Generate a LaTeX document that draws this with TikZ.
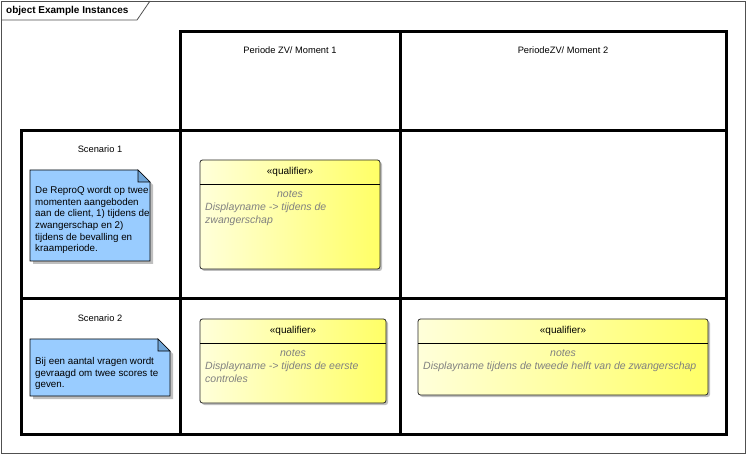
\documentclass[tikz,border=0pt]{standalone}
\usepackage{fontspec}
\setmainfont{Liberation Sans}
\usepackage{xcolor}
\usetikzlibrary{shadows}

\definecolor{notefill}{RGB}{153,204,255}
\definecolor{noteear}{RGB}{112,165,215}
\definecolor{qualleft}{RGB}{255,255,218}
\definecolor{qualright}{RGB}{255,255,102}
\definecolor{notegray}{RGB}{128,128,128}
\definecolor{framegray}{RGB}{80,80,80}

\begin{document}
\begin{tikzpicture}[x=1pt, y=-1pt,
  lbl/.style={font=\fontsize{9.3}{11.7}\selectfont, inner sep=0pt},
  notetext/.style={inner sep=0pt, font=\fontsize{9.8}{11.7}\selectfont, anchor=north west, align=left},
  grayit/.style={inner sep=0pt, text=notegray, font=\fontsize{10.5}{13}\selectfont\itshape},
  cell/.style={line width=3pt},
  notepaper/.style={fill=notefill, draw=black, line width=0.7pt,
    drop shadow={shadow xshift=3pt, shadow yshift=-3pt, opacity=0.25, fill=black}},
  qualbox/.style={draw=black!85, line width=0.8pt, rounded corners=2.5pt,
    left color=qualleft, right color=qualright,
    drop shadow={shadow xshift=2pt, shadow yshift=-2pt, opacity=0.25, fill=black}},
  ]
  \useasboundingbox (0,0) rectangle (747,454);
  % Frame with title tab
  \draw[framegray, line width=0.8pt] (1,1) rectangle (745.5,453);
  \draw[framegray, line width=0.8pt] (1,20) -- (137,20) -- (150,1);
  \node[font=\fontsize{10}{12}\selectfont\bfseries, anchor=west, inner sep=0pt] (title) at (6,10.5) {object Example Instances};
  % Grid
  \draw[cell] (21.5,130.5) rectangle (726.5,434.5);
  \draw[cell] (180.5,31.5) rectangle (726.5,434.5);
  \draw[cell] (400.5,31.5) -- (400.5,434.5);
  \draw[cell] (21.5,298.5) -- (726.5,298.5);
  % Column and row headers
  \node[lbl] (moment1) at (290,50) {Periode ZV/ Moment 1};
  \node[lbl] (moment2) at (563,50) {PeriodeZV/ Moment 2};
  \node[lbl] (scen1) at (100,149) {Scenario 1};
  \node[lbl] (scen2) at (100,318) {Scenario 2};
  % Note 1
  \filldraw[notepaper] (30,170) -- (138,170) -- (150,182) -- (150,261) -- (30,261) -- cycle;
  \filldraw[fill=noteear, draw=black, line width=0.7pt] (138,170) -- (138,182) -- (150,182) -- cycle;
  \node[notetext] (note1) at (35,186) {De ReproQ wordt op twee\\momenten aangeboden\\aan de client, 1) tijdens de\\zwangerschap en 2)\\tijdens de bevalling en\\kraamperiode.};
  % Note 2
  \filldraw[notepaper] (30,339) -- (158,339) -- (170,351) -- (170,396) -- (30,396) -- cycle;
  \filldraw[fill=noteear, draw=black, line width=0.7pt] (158,339) -- (158,351) -- (170,351) -- cycle;
  \node[notetext] (note2) at (35,357) {Bij een aantal vragen wordt\\gevraagd om twee scores te\\geven.};
  % Qualifier 1
  \draw[qualbox] (200,160) rectangle (380,269);
  \draw[black, line width=0.8pt] (200,184) -- (380,184);
  \node[lbl, font=\fontsize{10}{12}\selectfont] (q1head) at (290,172) {«qualifier»};
  \node[grayit] (q1notes) at (290,194.5) {notes};
  \node[grayit, anchor=north west, align=left] (q1text) at (205,203) {Displayname -> tijdens de\\zwangerschap};
  % Qualifier 2
  \draw[qualbox] (200,319) rectangle (386,403);
  \draw[black, line width=0.8pt] (200,343) -- (386,343);
  \node[lbl, font=\fontsize{10}{12}\selectfont] (q2head) at (293,331) {«qualifier»};
  \node[grayit] (q2notes) at (293,353.5) {notes};
  \node[grayit, anchor=north west, align=left] (q2text) at (205,362) {Displayname -> tijdens de eerste\\controles};
  % Qualifier 3
  \draw[qualbox] (418,319) rectangle (708,395);
  \draw[black, line width=0.8pt] (418,343) -- (708,343);
  \node[lbl, font=\fontsize{10}{12}\selectfont] (q3head) at (563,331) {«qualifier»};
  \node[grayit] (q3notes) at (563,353.5) {notes};
  \node[grayit, anchor=north west] (q3text) at (423,362) {Displayname tijdens de tweede helft van de zwangerschap};
\end{tikzpicture}
\end{document}
